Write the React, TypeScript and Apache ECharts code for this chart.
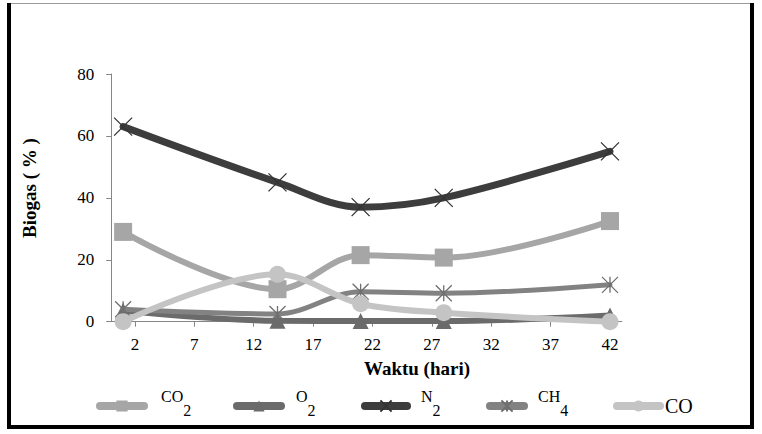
import React, { useEffect, useRef } from "react";
import * as echarts from "echarts";

// ---- data ----
const days = [1, 14, 21, 28, 42];
const xTickValues = [2, 7, 12, 17, 22, 27, 32, 37, 42];
const co2 = [29, 10.5, 21.5, 20.7, 32.5];
const o2 = [3.5, 0.3, 0.2, 0.2, 2];
const n2 = [63, 45, 37, 40, 55];
const ch4 = [4, 2.5, 9.7, 9.2, 11.9];
const co = [0, 15.3, 5.8, 2.9, 0];
const seriesNames = ["CO2", "O2", "N2", "CH4", "CO"];
const legendBase = ["CO", "O", "N", "CH", "CO"];
const legendSub = ["2", "2", "2", "4", ""];
const xTitle = "Waktu (hari)";
const yTitle = "Biogas ( % )";

// ---- styles ----
const FONT = "Liberation Serif";
const colors = ["#a6a6a6", "#6b6b6b", "#3d3d3d", "#828282", "#c4c4c4"];
const symbols = [
  "rect",
  "triangle",
  "path://M0,0L10,10M10,0L0,10",
  "path://M5,0L5,10M0,0L10,10M10,0L0,10",
  "circle",
];
const symbolSizes = [18, 16, 18, 16, 17];
const lineWidths = [6, 6, 7, 5, 6];
const legendLayout = [
  { left: 96, width: 44, pad: 12, top: 388 },
  { left: 233, width: 44, pad: 10, top: 388 },
  { left: 361, width: 42, pad: 9, top: 388 },
  { left: 486, width: 34, pad: 9, top: 388 },
  { left: 613, width: 43, pad: 0, top: 396 },
];

export default function App() {
  const ref = useRef<HTMLDivElement>(null);
  useEffect(() => {
    document.body.style.margin = "0";
    const chart = echarts.init(ref.current!, null, { renderer: "svg" });
    const allData = [co2, o2, n2, ch4, co];
    const series = seriesNames.map((name, i) => {
      const isPath = symbols[i].startsWith("path://");
      return {
        name,
        type: "line",
        smooth: 0.35,
        data: days.map((d, k) => [d, allData[i][k]]),
        symbol: symbols[i],
        symbolSize: symbolSizes[i],
        showSymbol: true,
        lineStyle: { color: colors[i], width: lineWidths[i], cap: "round" },
        itemStyle: isPath
          ? { color: colors[i], borderColor: i === 2 ? "#333" : "#6f6f6f", borderWidth: 1.3 }
          : { color: colors[i], borderWidth: 0 },
        emphasis: { disabled: true },
        z: 2 + i,
      };
    });
    const legends = seriesNames.map((name, i) => ({
      data: [name],
      left: legendLayout[i].left,
      top: legendLayout[i].top,
      padding: 0,
      itemWidth: legendLayout[i].width,
      itemHeight: 14,
      selectedMode: false,
      lineStyle: { width: 8, cap: "round", color: colors[i] },
      formatter: () =>
        legendSub[i]
          ? `{b|${legendBase[i]}}{s|${legendSub[i]}}`
          : `{c|${legendBase[i]}}`,
      textStyle: {
        fontFamily: FONT,
        rich: {
          b: { fontSize: 16, fontFamily: FONT, color: "#000", lineHeight: 16, padding: [0, 0, 20, legendLayout[i].pad] },
          s: { fontSize: 16, fontFamily: FONT, color: "#000", lineHeight: 16, padding: [8, 0, 0, 0] },
          c: { fontSize: 20, fontFamily: FONT, color: "#000", lineHeight: 20, padding: [0, 0, 0, legendLayout[i].pad] },
        },
      },
    }));
    chart.setOption({
      animation: false,
      backgroundColor: "#fff",
      textStyle: { fontFamily: FONT },
      grid: { left: 111.25, top: 74, width: 510.6, height: 247.7, containLabel: false, outerBoundsMode: "none" },
      xAxis: {
        type: "value",
        min: 0,
        max: 43,
        splitLine: { show: false },
        axisLine: { show: true, lineStyle: { color: "#868686", width: 1 } },
        axisTick: { show: true, length: 5, customValues: xTickValues, lineStyle: { color: "#868686" } },
        axisLabel: { customValues: xTickValues, fontSize: 17, fontFamily: FONT, color: "#000", margin: 14 },
      },
      yAxis: {
        type: "value",
        min: 0,
        max: 80,
        interval: 20,
        splitLine: { show: false },
        axisLine: { show: true, lineStyle: { color: "#868686", width: 1 } },
        axisTick: { show: true, length: 5, lineStyle: { color: "#868686" } },
        axisLabel: { fontSize: 17, fontFamily: FONT, color: "#000", margin: 17 },
      },
      legend: legends,
      series,
      graphic: [
        { type: "rect", shape: { x: 7, y: 3, width: 747, height: 1 }, style: { fill: "#9a9a9a" } },
        { type: "rect", shape: { x: 7, y: 3, width: 4, height: 426 }, style: { fill: "#000" } },
        { type: "rect", shape: { x: 750, y: 3, width: 4, height: 426 }, style: { fill: "#000" } },
        { type: "rect", shape: { x: 7, y: 425, width: 747, height: 4 }, style: { fill: "#000" } },
        {
          type: "text",
          x: 417,
          y: 368,
          style: { text: xTitle, fontSize: 19, fontWeight: "bold", fontFamily: FONT, fill: "#000", align: "center", verticalAlign: "middle" },
        },
        {
          type: "text",
          x: 29,
          y: 188,
          rotation: Math.PI / 2,
          style: { text: yTitle, fontSize: 19, fontWeight: "bold", fontFamily: FONT, fill: "#000", align: "center", verticalAlign: "middle" },
        },
      ],
    });
    return () => chart.dispose();
  }, []);
  return <div ref={ref} style={{ position: "absolute", left: 0, top: 0, width: 762, height: 434 }} />;
}
